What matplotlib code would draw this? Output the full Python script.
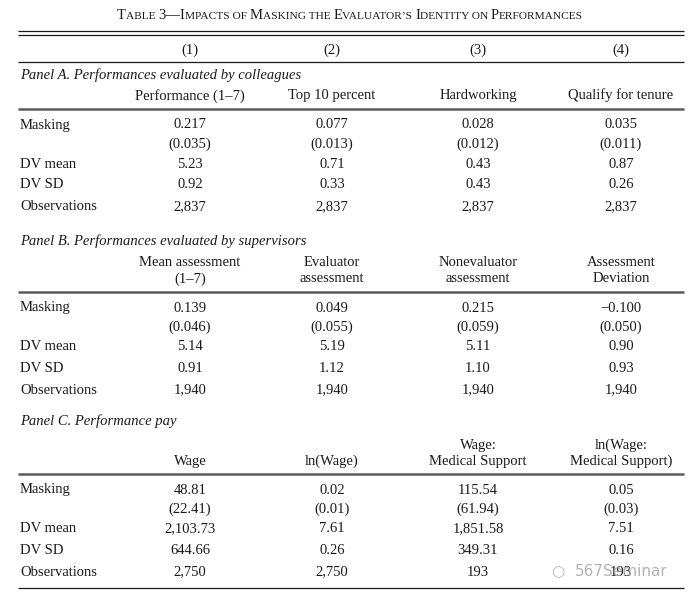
import numpy as np
import matplotlib.pyplot as plt
plt.rcParams['font.family'] = ['Liberation Serif', 'DejaVu Serif']
plt.rcParams['font.size'] = 10.5

title = "Table 3\u2014Impacts of Masking the Evaluator\u2019s Identity on Performances"
col_ids = ["(1)", "(2)", "(3)", "(4)"]
row_labels = ["Masking", "", "DV mean", "DV SD", "Observations"]

panel_a_title = "Panel A. Performances evaluated by colleagues"
panel_a_heads = ["Performance (1\u20137)", "Top 10 percent", "Hardworking", "Qualify for tenure"]
panel_a_coef = ["0.217", "0.077", "0.028", "0.035"]
panel_a_se = ["(0.035)", "(0.013)", "(0.012)", "(0.011)"]
panel_a_mean = ["5.23", "0.71", "0.43", "0.87"]
panel_a_sd = ["0.92", "0.33", "0.43", "0.26"]
panel_a_obs = ["2,837", "2,837", "2,837", "2,837"]

panel_b_title = "Panel B. Performances evaluated by supervisors"
panel_b_heads = ["Mean assessment\n(1\u20137)", "Evaluator\nassessment", "Nonevaluator\nassessment", "Assessment\nDeviation"]
panel_b_coef = ["0.139", "0.049", "0.215", "\u22120.100"]
panel_b_se = ["(0.046)", "(0.055)", "(0.059)", "(0.050)"]
panel_b_mean = ["5.14", "5.19", "5.11", "0.90"]
panel_b_sd = ["0.91", "1.12", "1.10", "0.93"]
panel_b_obs = ["1,940", "1,940", "1,940", "1,940"]

panel_c_title = "Panel C. Performance pay"
panel_c_heads = ["Wage", "ln(Wage)", "Wage:\nMedical Support", "ln(Wage:\nMedical Support)"]
panel_c_coef = ["48.81", "0.02", "115.54", "0.05"]
panel_c_se = ["(22.41)", "(0.01)", "(61.94)", "(0.03)"]
panel_c_mean = ["2,103.73", "7.61", "1,851.58", "7.51"]
panel_c_sd = ["644.66", "0.26", "349.31", "0.16"]
panel_c_obs = ["2,750", "2,750", "193", "193"]

W, H = 700, 595
fig = plt.figure(figsize=(7, 5.95), dpi=100)
ax = fig.add_axes([0, 0, 1, 1])
ax.set_xlim(0, W)
ax.set_ylim(H, 0)
ax.axis('off')

col_x = [190, 332, 478, 621]
label_x = 20
line_l, line_r = 18, 684
ink = '#1a1a1a'
base = 4.5  # baseline sits this far below the visual centre of a row


def hline(y, lw=0.9, color=ink):
    ax.plot([line_l, line_r], [y, y], color=color, lw=lw, solid_capstyle='butt')


def put(x, y, s, ha='center', **kw):
    ax.text(x, y + base, s, ha=ha, va='baseline', color=ink, **kw)


def small_caps(text, xc, y, big=10.5, small=8.2):
    # runs of big / small letters; punctuation follows the previous run
    runs = []
    for ch in text:
        if ch.isupper() or ch.isdigit():
            size = big
        elif ch.islower():
            size = small
        else:
            size = runs[-1][1] if runs else big
        if runs and runs[-1][1] == size:
            runs[-1][0] += ch.upper()
        else:
            runs.append([ch.upper(), size])
    r = fig.canvas.get_renderer()
    widths = []
    for s, size in runs:
        t = ax.text(0, 0, s, fontsize=size)
        widths.append(t.get_window_extent(renderer=r).width)
        t.remove()
    x = xc - sum(widths) / 2
    for (s, size), w in zip(runs, widths):
        ax.text(x, y, s, fontsize=size, va='baseline', ha='left', color=ink)
        x += w


small_caps(title, 350, 19)
hline(31)
hline(35)
for c, lab in zip(col_x, col_ids):
    put(c, 49, lab)
hline(62)


def panel(y0, hl, ptitle, heads, coef, se, mean, sd, obs):
    put(label_x, y0, ptitle, ha='left', style='italic')
    for c, h in zip(col_x, heads):
        parts = h.split('\n')
        for k, p in enumerate(reversed(parts)):
            put(c, hl - 14 - 16 * k, p)
    hline(hl, lw=1.8, color='#5a5a5a')
    rows = [coef, se, mean, sd, obs]
    offs = [15, 34, 54, 75, 97]
    for lab, vals, o in zip(row_labels, rows, offs):
        y = hl + o
        if lab:
            put(label_x, y, lab, ha='left')
        for c, v in zip(col_x, vals):
            put(c, y, v)


panel(75, 109, panel_a_title, panel_a_heads, panel_a_coef, panel_a_se,
      panel_a_mean, panel_a_sd, panel_a_obs)
panel(240, 292, panel_b_title, panel_b_heads, panel_b_coef, panel_b_se,
      panel_b_mean, panel_b_sd, panel_b_obs)
panel(421, 474, panel_c_title, panel_c_heads, panel_c_coef, panel_c_se,
      panel_c_mean, panel_c_sd, panel_c_obs)
hline(588)

# watermark
ax.text(575, 572, "567Seminar", fontsize=11, family='DejaVu Sans',
        color='#a0a0a0', alpha=0.8, va='center', ha='left')
ax.text(558, 572, "\u25cb", fontsize=11, family='DejaVu Sans',
        color='#b8b8b8', va='center', ha='center')

fig.savefig('out.png', dpi=100)
